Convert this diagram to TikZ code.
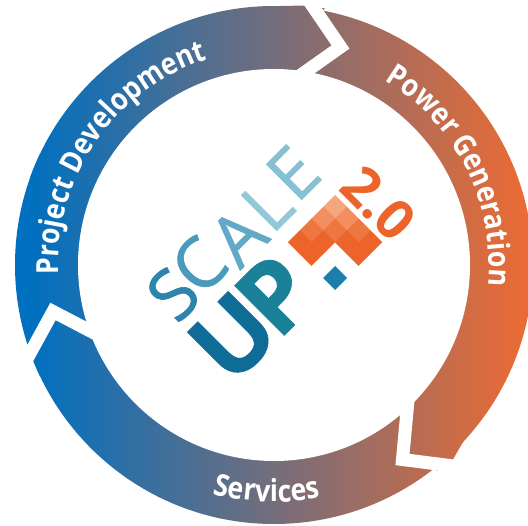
\documentclass[tikz,border=0pt]{standalone}
\usepackage{fontspec}
\setmainfont{Open Sans}
\newfontfamily\narrowfam[FakeStretch=0.88]{Open Sans}
\newfontfamily\heavyfam[FakeBold=0.9]{Open Sans}
\newfontfamily\fatfam[FakeBold=0.6]{Open Sans Bold}
\usetikzlibrary{decorations.text}
\definecolor{ringblue}{HTML}{0070C0}
\definecolor{ringorange}{HTML}{ED6B33}
\definecolor{logopeach}{HTML}{F5A67C}
\definecolor{logoorange}{HTML}{EC642A}
\definecolor{logodot}{HTML}{1B7FAE}
\definecolor{letters}{HTML}{2D84AC}
\definecolor{letterc}{HTML}{4A9ABB}
\definecolor{lettera}{HTML}{62A9C5}
\definecolor{letterl}{HTML}{93C8D8}
\definecolor{lettere}{HTML}{86C1D3}
\definecolor{letteru}{HTML}{0F6C96}
\definecolor{letterp}{HTML}{1A8199}
\newcommand{\ringfont}{\fontsize{17.3pt}{18pt}\narrowfam\bfseries}
\newcommand{\ringpaint}{%
  \fill[ringblue] (0,0) rectangle (40,525);
  \shade[left color=ringblue,right color=ringorange] (30,0) rectangle (528,525);}
\tikzset{
  gap/.style={white,line width=0.26cm},
  thinletter/.style={rotate=45,font=\fontsize{40pt}{41pt}\heavyfam,inner sep=0pt},
  fatletter/.style={rotate=45,font=\fontsize{56pt}{57pt}\fatfam,inner sep=0pt},
}
\begin{document}
\begin{tikzpicture}[x=0.02cm,y=0.02cm]
\useasboundingbox (0,0) rectangle (528,525);
% ring
\begin{scope}
\clip (274,260) circle (259);
\ringpaint
\end{scope}
\begin{scope}
\clip (436,54)--(452,64)--(466,88)--(440,85)--cycle;
\ringpaint
\end{scope}
\begin{scope}
\clip (280,519)--(306,519.5)--(325,516.5)--(300,495)--cycle;
\ringpaint
\end{scope}
\fill[white] (274,260) circle (196);
% gaps
\draw[gap] (303,533)--(340.5,478)--(296,446.5);
\draw[gap] (408.5,130)--(402.5,65.5)--(465,57.5);
\draw[gap] (100,189)--(53,213.5)--(22,157);
% ring labels
\path[decorate,decoration={text along path,text color=white,text={|\ringfont|Project Development}}]
  (274,260) ++(182.5:216) arc[start angle=182.5,end angle=95,radius=216];
\path[decorate,decoration={text along path,text color=white,text={|\ringfont|Power Generation}}]
  (274,260) ++(59:215) arc[start angle=59,end angle=-25,radius=215];
\path[decorate,decoration={text along path,text color=white,text={|\ringfont|Services}}]
  (274,260) ++(255:237) arc[start angle=255,end angle=295,radius=237];
% logo
\node[thinletter,text=letters] (s) at (173,231) {S};
\node[thinletter,text=letterc] (c) at (199,260) {C};
\node[thinletter,text=lettera] (a) at (238,288) {A};
\node[thinletter,text=letterl] (l) at (267,320) {L};
\node[thinletter,text=lettere] (e) at (293,352) {E};
\node[fatletter,text=letteru] (u) at (233,188) {U};
\node[fatletter,text=letterp] (p) at (275,230) {P};
\foreach \i in {0,...,3}
  \foreach \j in {0,...,3}{
    \pgfmathtruncatemacro{\cut}{(\i>1)*(\j>1)}
    \ifnum\cut=0
      \pgfmathsetmacro{\p}{min(100,(\i+\j)*36)}
      \fill[logoorange!\p!logopeach] (335-11.75*\i+11.75*\j,330-11.75*\i-11.75*\j)
        --++(-11.9,-11.9)--++(11.9,-11.9)--++(11.9,11.9)--cycle;
    \fi
  }
\fill[logodot] (335,259)--(347,247)--(335,235)--(323,247)--cycle;
\node[rotate=-45,text=logoorange,font=\fontsize{31pt}{32pt}\selectfont\bfseries,inner sep=0pt] (version) at (379,322) {2.0};
\end{tikzpicture}
\end{document}
